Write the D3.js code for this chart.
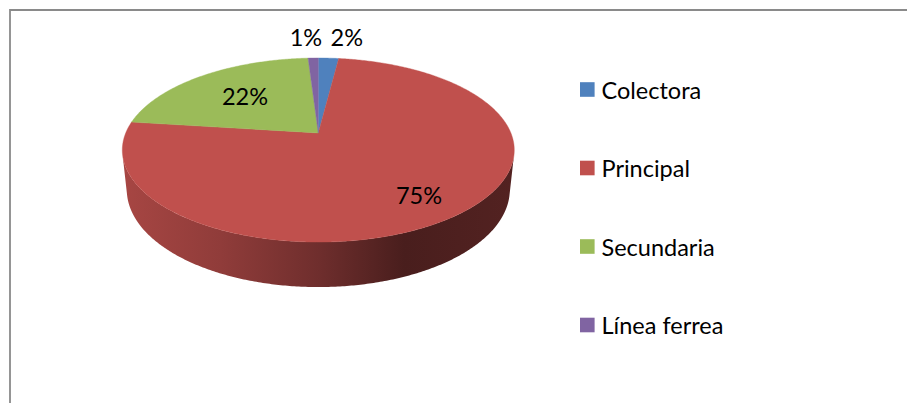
<!DOCTYPE html>
<html>
<head>
<meta charset="utf-8">
<script src="https://cdn.jsdelivr.net/npm/d3@7"></script>
<style>
  html, body { margin: 0; padding: 0; background: #ffffff; }
  svg { display: block; }
  text { font-family: Lato, "Open Sans", sans-serif; fill: #000; }
</style>
</head>
<body>
<svg id="chart" width="907" height="403"></svg>
<script>
// Road network share by type
const categories = ["Colectora", "Principal", "Secundaria", "Línea ferrea"];
const values = [2, 75, 22, 1];
const colors = ["#4F81BD", "#C0504D", "#9BBB59", "#8064A2"];

const W = 907, H = 403;
const svg = d3.select("#chart");

// Chart frame
svg.append("path")
  .attr("d", `M10,${H + 5} V10 H${W + 5}`)
  .attr("fill", "none")
  .attr("stroke", "#8a8a8a")
  .attr("stroke-width", 1.8);

// 3D perspective pie geometry
const view = {
  cx: 318.3, cy: 133,     // screen position of the pie centre (top face)
  f: 923.3,               // focal length in px
  D: 4.794,               // camera distance in radii
  tilt: Math.asin(0.4615),// camera elevation
  depth: 0.235            // thickness in radii
};
const sinT = Math.sin(view.tilt), cosT = Math.cos(view.tilt);

// angle measured clockwise from the far side (12 o'clock), r in radii, y height
function project(a, r, y) {
  const x = r * Math.sin(a), z = r * Math.cos(a);
  const yc = y * cosT + z * sinT;
  const zc = view.D - y * sinT + z * cosT;
  return [view.cx + view.f * x / zc, view.cy - view.f * yc / zc];
}

function arcPoints(a0, a1, r, y) {
  const n = Math.max(2, Math.ceil(Math.abs(a1 - a0) / 0.01));
  return d3.range(n + 1).map(i => project(a0 + (a1 - a0) * i / n, r, y));
}

const pie = d3.pie().sort(null).startAngle(0).endAngle(2 * Math.PI);
const arcs = pie(values);
const total = d3.sum(values);
const pct = d3.format(".0%");

// visible part of the outer wall (faces the camera)
const cVis = 1 / (view.D * cosT);
const aMin = Math.acos(-cVis), aMax = 2 * Math.PI - Math.acos(-cVis);

const line = d3.line();
const defs = svg.append("defs");

// wall extent for the shading gradient
const wallAll = arcPoints(aMin, aMax, 1, 0).concat(arcPoints(aMin, aMax, 1, -view.depth));
const wx = d3.extent(wallAll, p => p[0]);

const shade = [[0, 0.87], [0.25, 0.75], [0.5, 0.58], [0.72, 0.38], [1, 0.43]];
colors.forEach((c, i) => {
  const base = d3.rgb(c);
  const g = defs.append("linearGradient")
    .attr("id", "wall" + i)
    .attr("gradientUnits", "userSpaceOnUse")
    .attr("x1", wx[0]).attr("x2", wx[1]).attr("y1", 0).attr("y2", 0);
  shade.forEach(([o, k]) => {
    g.append("stop").attr("offset", o)
      .attr("stop-color", d3.rgb(base.r * k, base.g * k, base.b * k).formatHex());
  });
});

// outer walls
const gWall = svg.append("g");
arcs.forEach((d, i) => {
  const s = Math.max(d.startAngle, aMin), e = Math.min(d.endAngle, aMax);
  if (s >= e) return;
  const pts = arcPoints(s, e, 1, 0).concat(arcPoints(e, s, 1, -view.depth));
  gWall.append("path")
    .attr("d", line(pts) + "Z")
    .attr("fill", `url(#wall${i})`);
});

// top faces
const gTop = svg.append("g");
arcs.forEach((d, i) => {
  const pts = [project(0, 0, 0)].concat(arcPoints(d.startAngle, d.endAngle, 1, 0));
  gTop.append("path")
    .attr("d", line(pts) + "Z")
    .attr("fill", colors[i])
    .attr("stroke", colors[i])
    .attr("stroke-width", 0.4);
});

// data labels
const fontSize = 23.5;
const gLab = svg.append("g").style("font-size", fontSize + "px");
arcs.forEach((d, i) => {
  const share = d.value / total;
  const mid = (d.startAngle + d.endAngle) / 2;
  const txt = pct(share);
  if (share >= 0.05) {
    const p = project(mid + 0.02, 0.55 + 0.3 * share, 0);
    gLab.append("text")
      .attr("x", p[0]).attr("y", p[1])
      .attr("text-anchor", "middle")
      .attr("dominant-baseline", "central")
      .text(txt);
  } else {
    const p = project(mid, 1, 0);
    const left = Math.sin(mid) < 0;
    gLab.append("text")
      .attr("x", left ? p[0] + 9 : p[0] + 2)
      .attr("y", p[1] - 12)
      .attr("text-anchor", left ? "end" : "start")
      .text(txt);
  }
});

// legend
const ly = d3.scalePoint().domain(categories).range([89.5, 325]);
const gLeg = svg.append("g").style("font-size", fontSize + "px");
categories.forEach((c, i) => {
  const y = ly(c);
  gLeg.append("rect")
    .attr("x", 580).attr("y", y - 7.3)
    .attr("width", 14.6).attr("height", 14.6)
    .attr("fill", colors[i]);
  gLeg.append("text")
    .attr("x", 601.5).attr("y", y)
    .attr("dominant-baseline", "central")
    .text(c);
});
</script>
</body>
</html>
